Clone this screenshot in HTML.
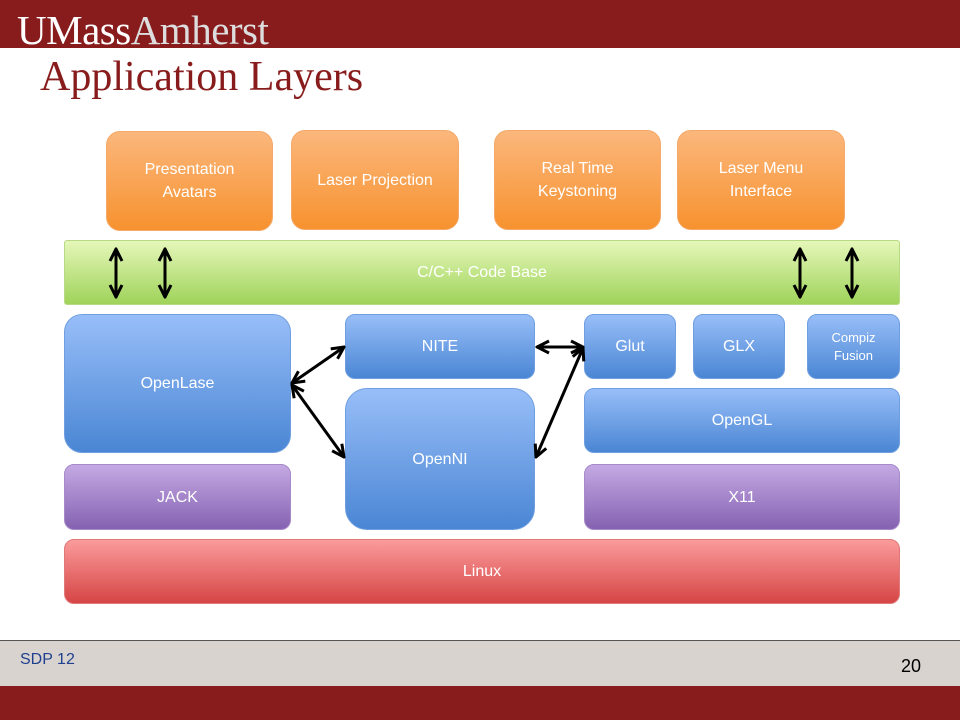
<!DOCTYPE html>
<html><head><meta charset="utf-8"><style>
body{margin:0;width:960px;height:720px;position:relative;background:#fff;font-family:"Liberation Sans",sans-serif;overflow:hidden}
.b{position:absolute;box-sizing:border-box;display:flex;align-items:center;justify-content:center;text-align:center;color:#fff;font-size:16px;line-height:23px;border-radius:14px}
.o{background:linear-gradient(#fbb77c,#f7922f);border:1px solid #f4a968}
.g{background:linear-gradient(#e5f7b9,#9fd35a);border:1px solid #b8d985;border-radius:3px}
.bl{background:linear-gradient(#98bef8,#4a86d4);border:1px solid #6f9fe0;border-radius:10px}
.p{background:linear-gradient(#c5a9e3,#8562b2);border:1px solid #a68ac9;border-radius:10px}
.r{background:linear-gradient(#fb9b9b,#d64545);border:1px solid #e07a7a;border-radius:10px}
</style></head><body>
<div style="position:absolute;left:0;top:0;width:960px;height:48px;background:#881c1c"></div>
<div style="position:absolute;left:17px;top:9px;font-family:'Liberation Serif',serif;font-size:41px;line-height:42px;letter-spacing:-0.5px;color:#fff">UMass<span style="color:#ddd">Amherst</span></div>
<div style="position:absolute;left:40px;top:53px;font-family:'Liberation Serif',serif;font-size:42px;color:#881c1c">Application Layers</div>

<div class="b o" style="left:106px;top:131px;width:167px;height:100px">Presentation<br>Avatars</div>
<div class="b o" style="left:291px;top:130px;width:168px;height:100px">Laser Projection</div>
<div class="b o" style="left:494px;top:130px;width:167px;height:100px">Real Time<br>Keystoning</div>
<div class="b o" style="left:677px;top:130px;width:168px;height:100px">Laser Menu<br>Interface</div>
<div class="b g" style="left:64px;top:240px;width:836px;height:65px">C/C++ Code Base</div>
<div class="b bl" style="left:64px;top:314px;width:227px;height:139px;border-radius:18px">OpenLase</div>
<div class="b bl" style="left:345px;top:314px;width:190px;height:65px">NITE</div>
<div class="b bl" style="left:345px;top:388px;width:190px;height:142px;border-radius:22px">OpenNI</div>
<div class="b bl" style="left:584px;top:314px;width:92px;height:65px">Glut</div>
<div class="b bl" style="left:693px;top:314px;width:92px;height:65px">GLX</div>
<div class="b bl" style="left:807px;top:314px;width:93px;height:65px;font-size:13px;line-height:18px">Compiz<br>Fusion</div>
<div class="b bl" style="left:584px;top:388px;width:316px;height:65px">OpenGL</div>
<div class="b p" style="left:64px;top:464px;width:227px;height:66px">JACK</div>
<div class="b p" style="left:584px;top:464px;width:316px;height:66px">X11</div>
<div class="b r" style="left:64px;top:539px;width:836px;height:65px">Linux</div>

<svg width="960" height="720" style="position:absolute;left:0;top:0">
<defs><marker id="a" viewBox="0 0 10 10" refX="9" refY="5" markerWidth="5" markerHeight="5" orient="auto-start-reverse"><path d="M1 1L9 5L1 9" fill="none" stroke="#000" stroke-width="2"/></marker></defs>
<g stroke="#000" stroke-width="3" marker-start="url(#a)" marker-end="url(#a)">
<line x1="292" y1="383" x2="344" y2="347"/>
<line x1="292" y1="385" x2="344" y2="457"/>
<line x1="537" y1="347" x2="583" y2="347"/>
<line x1="583" y1="348" x2="536" y2="457"/>
<line x1="116" y1="249" x2="116" y2="297"/>
<line x1="165" y1="249" x2="165" y2="297"/>
<line x1="800" y1="249" x2="800" y2="297"/>
<line x1="852" y1="249" x2="852" y2="297"/>
</g></svg>

<div style="position:absolute;left:0;top:640px;width:960px;height:46px;background:#d9d3d0;border-top:1px solid #555"></div>
<div style="position:absolute;left:20px;top:651px;font-size:16px;color:#1f3f8f">SDP 12</div>
<div style="position:absolute;left:901px;top:656px;font-size:18px;color:#000">20</div>
<div style="position:absolute;left:0;top:686px;width:960px;height:34px;background:#881c1c"></div>
</body></html>
